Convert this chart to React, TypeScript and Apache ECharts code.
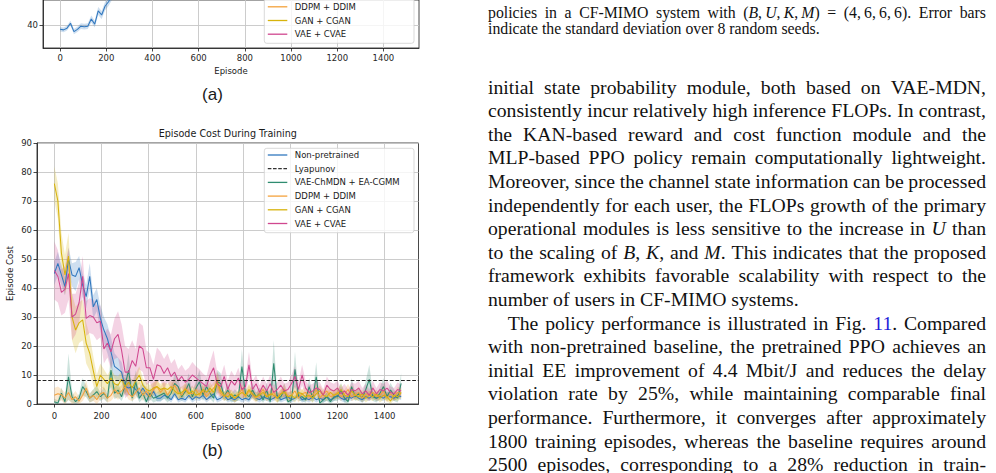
import React, { useEffect, useRef } from "react";
import * as echarts from "echarts";

// ---------------- data ----------------
const EPISODE_STEP = 15;
const EPISODE_TICKS = [0, 200, 400, 600, 800, 1000, 1200, 1400];
const COST_TICKS_MIN = 0;
const COST_TICKS_MAX = 90;
const COST_TICK_STEP = 10;
const REWARD_TICKS = [40];
const LYAPUNOV_COST = 8.2;

// (a) partial panel (only its lowest part is on the page)
const REWARD_NON_PRETRAINED = [38.5, 38.3, 38.9, 40.6, 37.7, 38.5, 39.6, 39.4, 39.6, 42.1, 40.3, 44.9, 43.5, 46.6, 48.1, 50.4, 52.5];
const REWARD_NON_PRETRAINED_STD = [0.8, 0.8, 0.8, 0.9, 0.9, 0.9, 1, 1, 1, 1.2, 1.2, 1.4, 1.4, 1.5, 1.5, 1.6, 1.6];

// (b) episode cost
const NON_PRETRAINED = [
  45, 48.5, 44.5, 40.5, 50, 44.5, 44, 47, 41, 37,
  44, 33.5, 36, 29.5, 25.5, 22.5, 18, 13, 12, 11,
  6, 5.5, 6, 5, 3.5, 5.5, 3.5, 2.5, 4.5, 2,
  2, 3, 2.5, 1.5, 3.5, 1.5, 2, 1.5, 3, 1.5,
  2.5, 2, 3, 1.5, 2.5, 3.5, 1.5, 2, 3, 1.5,
  2, 1.5, 2.5, 1.5, 2, 1.5, 3.5, 2, 1.5, 2.5,
  2, 1.5, 2, 3, 1.5, 2, 2.5, 1.5, 2, 3,
  1.5, 2, 1.5, 2.5, 1.5, 2, 1.5, 2.5, 1.5, 2,
  3, 2, 1.5, 2.5, 2, 3, 2, 1.5, 2.5, 2,
  3, 2, 2.5, 2, 3, 2.5, 2, 3, 2.5,
];
const NON_PRETRAINED_STD = [
  4, 4, 3.5, 3, 4, 4, 5, 4, 4, 4,
  4.5, 4, 4, 4.5, 4.5, 5, 5, 4.5, 4, 3.5,
  3, 2.5, 2.5, 2, 2, 2, 2, 1.5, 1.5, 1.2,
  1.2, 1.2, 1, 1, 1.2, 1, 1, 1, 1.2, 1,
  1.2, 1, 1.2, 1, 1, 1.2, 1, 1, 1.2, 1,
  1, 1, 1.2, 1, 1, 1, 1.5, 1, 1, 1.2,
  1, 1, 1, 1.2, 1, 1, 1.2, 1, 1, 1.2,
  1, 1, 1, 1.2, 1, 1, 1, 1.2, 1, 1,
  1.2, 1, 1, 1.2, 1, 1.2, 1, 1, 1.2, 1,
  1.2, 1, 1.2, 1, 1.2, 1.2, 1, 1.2, 1.2,
];
const VAE_CHMDN = [
  0.8, 0.3, 3.7, 0.8, 9.4, 2.5, 0.8, 2, 6, 4.3,
  2, 3.1, 4.3, 2.5, 3.7, 2, 11.7, 3.7, 4.8, 2.5,
  6.6, 11.7, 2, 7.7, 2, 3.7, 0.8, 3.7, 2, 2.5,
  3.1, 3.7, 2, 3.7, 7.1, 6, 2.5, 4.3, 7.1, 2.5,
  5.4, 7.7, 3.1, 6, 3.7, 2, 7.7, 7.1, 2.5, 4.8,
  2, 3.1, 2.5, 12.9, 3.7, 2.5, 4.8, 2.5, 3.7, 1.4,
  4.8, 0.8, 14, 2, 2.5, 4.8, 0.8, 1.4, 12, 2.5,
  2.5, 1.4, 6, 2, 9.4, 0.3, 1.4, 2.5, 0.8, 2.5,
  2.5, 4.8, 2, 0.8, 6, 2.5, 3.7, 2, 5, 8.5,
  2.5, 2, 3.7, 6, 2.5, 4.8, 3, 2, 7.1,
];
const VAE_CHMDN_STD = [
  1, 1, 2, 1, 8, 2, 1, 1.5, 3, 2,
  1.5, 2, 2, 1.5, 2, 1.5, 6, 2, 2.5, 1.5,
  3, 6, 1.5, 4, 1.5, 2, 1, 2, 1.5, 1.5,
  2, 2, 1.5, 2, 3.5, 3, 1.5, 2, 3.5, 1.5,
  2.5, 4, 2, 3, 2, 1.5, 4, 3.5, 1.5, 2.5,
  1.5, 2, 1.5, 6, 2, 1.5, 2.5, 1.5, 2, 1,
  2.5, 1, 8, 1.5, 1.5, 2.5, 1, 1, 6, 1.5,
  1.5, 1, 3, 1.5, 5, 0.5, 1, 1.5, 1, 1.5,
  1.5, 2.5, 1.5, 1, 3, 1.5, 2, 1.5, 3, 5,
  1.5, 1.5, 2, 3, 1.5, 2.5, 2, 1.5, 3.5,
];
const DDPM = [
  3, 3.5, 3.2, 2, 4, 1.5, 2.5, 1, 3, 5.5,
  2, 3, 1.5, 3.5, 4, 2, 3, 5, 3.5, 4.5,
  6, 3.5, 2.5, 4, 5.5, 3, 4.5, 2.5, 5, 6,
  4, 5.5, 3, 5, 6.5, 4, 3, 5.5, 4, 3.5,
  5, 3, 4.5, 2.5, 4, 5.5, 7, 3.5, 2.5, 4,
  3, 2, 3.5, 5, 2.5, 4.5, 3, 2, 3.5, 5,
  2.5, 3, 4, 2, 3.5, 5, 2.5, 3, 4.5, 2,
  3.5, 4, 2.5, 3, 5, 2, 3.5, 4.5, 2.5, 3,
  4, 2.5, 3.5, 5, 2.5, 3, 4, 2, 3.5, 3,
  4, 2.5, 3, 4.5, 2, 3.5, 2.5, 4, 3.5,
];
const DDPM_STD = [
  2.5, 2.5, 2, 2, 2.5, 1.5, 2, 1.5, 2, 2.5,
  1.5, 2, 1.5, 2, 2, 1.5, 2, 2.5, 2, 2,
  2.5, 2, 1.5, 2, 2.5, 2, 2, 1.5, 2, 2.5,
  2, 2, 1.5, 2, 2.5, 2, 1.5, 2, 2, 1.5,
  2, 1.5, 2, 1.5, 2, 2, 2.5, 1.5, 1.5, 2,
  1.5, 1.5, 1.5, 2, 1.5, 2, 1.5, 1.5, 1.5, 2,
  1.5, 1.5, 2, 1.5, 1.5, 2, 1.5, 1.5, 2, 1.5,
  1.5, 2, 1.5, 1.5, 2, 1.5, 1.5, 2, 1.5, 1.5,
  2, 1.5, 1.5, 2, 1.5, 1.5, 2, 1.5, 1.5, 1.5,
  2, 1.5, 1.5, 2, 1.5, 1.5, 1.5, 2, 1.5,
];
const GAN = [
  76, 70, 52, 44.5, 51, 30, 25.5, 28, 29, 21,
  17.5, 11.5, 6, 10, 8.5, 7, 9, 7, 6.5, 8.5,
  6, 7.5, 5.5, 8, 10, 6.5, 5, 4.5, 5.5, 6,
  5, 5.5, 5, 6, 4.5, 3.5, 4, 5, 3.5, 4.5,
  3, 3.5, 5, 4, 5.5, 4, 8, 4.5, 3, 2.5,
  3.5, 2, 3, 4, 3, 5, 3.5, 2.5, 3, 4,
  2.5, 3.5, 3, 2, 3.5, 4, 2.5, 3, 2, 4,
  3.5, 2.5, 3, 2, 3.5, 4.5, 3, 2.5, 4, 3,
  3.5, 5, 3, 2.5, 4.5, 3, 2.5, 3.5, 2, 3,
  2.5, 3.5, 2, 3, 2.5, 1, 3, 2.5, 4,
];
const GAN_STD = [
  6, 6, 7, 7, 8, 8, 8, 7, 7, 7,
  6, 5, 4, 4, 3.5, 3, 3, 3, 3, 3,
  2.5, 2.5, 2.5, 2.5, 3, 2.5, 2.5, 2, 2, 2,
  2, 2, 2, 2, 2, 2, 2, 2, 1.5, 2,
  1.5, 1.5, 2, 1.5, 2, 1.5, 3, 2, 1.5, 1.5,
  1.5, 1.5, 1.5, 2, 1.5, 2, 1.5, 1.5, 1.5, 1.5,
  1.5, 1.5, 1.5, 1.5, 1.5, 1.5, 1.5, 1.5, 1.5, 1.5,
  1.5, 1.5, 1.5, 1.5, 1.5, 2, 1.5, 1.5, 1.5, 1.5,
  1.5, 2, 1.5, 1.5, 2, 1.5, 1.5, 1.5, 1.5, 1.5,
  1.5, 1.5, 1.5, 1.5, 1.5, 1, 1.5, 1.5, 2,
];
const VAE_CVAE = [
  46, 44, 38.5, 39.5, 45, 30, 31, 35, 44, 29.5,
  30.5, 30, 28, 28.5, 19, 21, 18, 22.5, 24, 18.5,
  11, 11, 15, 13, 20, 19, 12.5, 12.5, 8.5, 13.5,
  13, 10.5, 12.5, 9.5, 11, 8, 9.5, 7.5, 8.5, 10,
  9, 8, 7, 6, 10, 12.5, 7, 6, 9.5, 5,
  8, 6.5, 9, 5, 6, 13.5, 5, 7, 4, 6.5,
  4.5, 7, 4, 5, 6.5, 4.5, 5, 7, 9.5, 5,
  10, 5.5, 4, 4.5, 5.5, 5, 3, 6.5, 5, 4.5,
  5.5, 3.5, 4.5, 3, 5, 4.5, 5.5, 3.5, 4.5, 3,
  5.5, 3.5, 5, 4.5, 5.5, 4, 3.5, 5, 4.5,
];
const VAE_CVAE_STD = [
  10, 9, 8, 8, 9, 8, 7, 7, 7, 6,
  6, 6, 6, 5.5, 5, 5, 6, 7, 8, 9,
  9, 8, 7, 6, 8, 8, 6, 5, 5, 6,
  5, 5, 5, 4.5, 4.5, 4, 4, 4, 4, 4.5,
  4, 4, 3.5, 3.5, 4.5, 6, 4, 3.5, 4, 3,
  3.5, 3, 3.5, 3, 3, 4.5, 3, 3, 2.5, 3,
  2.5, 3, 2.5, 2.5, 3, 2.5, 2.5, 3, 3.5, 2.5,
  3.5, 2.5, 2.5, 2.5, 2.5, 2.5, 2, 3, 2.5, 2.5,
  2.5, 2, 2.5, 2, 2.5, 2.5, 2.5, 2, 2.5, 2,
  2.5, 2, 2.5, 2.5, 2.5, 2, 2, 2.5, 2,
];

const LEGEND_LABELS = ["Non-pretrained", "Lyapunov", "VAE-ChMDN + EA-CGMM", "DDPM + DDIM", "GAN + CGAN", "VAE + CVAE"];

// ---------------- page text ----------------
const CAPTION_LINES = [
  { t: "policies in a CF-MIMO system with (*B*,\u2009*U*,\u2009*K*,\u2009*M*) = (4,\u20096,\u20096,\u20096). Error bars", j: true },
  { t: "indicate the standard deviation over 8 random seeds.", j: false },
];
const BODY_LINES = [
  { t: "initial state probability module, both based on VAE-MDN,", j: true },
  { t: "consistently incur relatively high inference FLOPs. In contrast,", j: true },
  { t: "the KAN-based reward and cost function module and the", j: true },
  { t: "MLP-based PPO policy remain computationally lightweight.", j: true },
  { t: "Moreover, since the channel state information can be processed", j: true },
  { t: "independently for each user, the FLOPs growth of the primary", j: true },
  { t: "operational modules is less sensitive to the increase in *U* than", j: true },
  { t: "to the scaling of *B*, *K*, and *M*. This indicates that the proposed", j: true },
  { t: "framework exhibits favorable scalability with respect to the", j: true },
  { t: "number of users in CF-MIMO systems.", j: false },
  { t: "The policy performance is illustrated in Fig. #11#. Compared", j: true, indent: true },
  { t: "with non-pretrained baseline, the pretrained PPO achieves an", j: true },
  { t: "initial EE improvement of 4.4 Mbit/J and reduces the delay", j: true },
  { t: "violation rate by 25%, while maintaining comparable final", j: true },
  { t: "performance. Furthermore, it converges after approximately", j: true },
  { t: "1800 training episodes, whereas the baseline requires around", j: true },
  { t: "2500 episodes, corresponding to a 28% reduction in train-", j: true },
];

// ---------------- styling ----------------
const SANS = '"DejaVu Sans", sans-serif';
const SERIF = '"Liberation Serif", "Times New Roman", serif';
const INK = "#1a1a1a";
const GRID_LINE = "#c6c6c6";
const COLORS = {
  blue: "#3178bf",
  teal: "#2f8c70",
  orange: "#f4a23c",
  gold: "#d7b30c",
  pink: "#d0478f",
};

function hexA(hex: string, a: number) {
  const n = parseInt(hex.slice(1), 16);
  return `rgba(${(n >> 16) & 255},${(n >> 8) & 255},${n & 255},${a})`;
}

const EPISODES = NON_PRETRAINED.map((_, i) => i * EPISODE_STEP);

function bandAndLine(name: string, mean: number[], std: number[], color: string, axis: number, floor: number) {
  const pts = mean.map((m, i) => [i * EPISODE_STEP, Math.max(floor, m - std[i]), m + std[i]]);
  const band = {
    type: "custom", name: name + " band", xAxisIndex: axis, yAxisIndex: axis, silent: true, clip: true,
    data: pts,
    encode: { x: 0, y: [1, 2] },
    renderItem: (params: any, api: any) => {
      if (params.dataIndex !== 0) return null;
      const upper = pts.map((p) => api.coord([p[0], p[2]]));
      const lower = pts.map((p) => api.coord([p[0], p[1]])).reverse();
      return { type: "polygon", shape: { points: upper.concat(lower) }, style: { fill: hexA(color, 0.24), stroke: "none" } };
    },
  };
  const line = {
    type: "line", name, xAxisIndex: axis, yAxisIndex: axis, symbol: "none", silent: true, clip: true,
    data: mean.map((m, i) => [i * EPISODE_STEP, m]),
    lineStyle: { color, width: 1.05 },
  };
  return [band, line];
}

function xAxisCfg(gridIndex: number, min: number, max: number, margin: number) {
  return {
    type: "value", gridIndex, min, max,
    axisLine: { show: true, onZero: false, lineStyle: { color: INK, width: 0.8 } },
    axisTick: { show: true, length: 3.5, lineStyle: { color: INK, width: 0.8 }, customValues: EPISODE_TICKS },
    axisLabel: { show: true, customValues: EPISODE_TICKS, margin, fontSize: 8.5, fontFamily: SANS, color: "#262626", formatter: (v: number) => String(v) },
    splitLine: { show: true, lineStyle: { color: GRID_LINE, width: 0.9 } },
  };
}

// ---------------- page text layout ----------------
let measureCtx: CanvasRenderingContext2D | null = null;
function textWidth(s: string, size: number, italic: boolean) {
  if (!measureCtx) measureCtx = document.createElement("canvas").getContext("2d");
  measureCtx!.font = `${italic ? "italic " : ""}${size}px "Liberation Serif"`;
  return measureCtx!.measureText(s).width;
}
function parseToken(tok: string) {
  const segs: { s: string; it: boolean; blue: boolean }[] = [];
  let cur = "", it = false, blue = false;
  for (const ch of tok) {
    if (ch === "*" || ch === "#") {
      if (cur) segs.push({ s: cur, it, blue });
      cur = "";
      if (ch === "*") it = !it; else blue = !blue;
    } else cur += ch;
  }
  if (cur) segs.push({ s: cur, it, blue });
  return segs;
}
function layoutLine(line: string, y: number, left: number, right: number, size: number, justify: boolean, indent: number) {
  const tokens = line.split(" ").map(parseToken);
  const widths = tokens.map((segs) => segs.reduce((a, g) => a + textWidth(g.s, size, g.it), 0));
  const total = widths.reduce((a, b) => a + b, 0);
  const space = textWidth(" ", size, false);
  const gap = justify && tokens.length > 1 ? (right - left - indent - total) / (tokens.length - 1) : space;
  const els: any[] = [];
  let x = left + indent;
  tokens.forEach((segs, k) => {
    let sx = x;
    segs.forEach((g) => {
      els.push({
        type: "text", x: sx, y, silent: true, z: 60,
        style: { text: g.s, fontSize: size, fontFamily: SERIF, fontStyle: g.it ? "italic" : "normal", fill: g.blue ? "#1d1dd8" : "#111", align: "left", verticalAlign: "middle" },
      });
      sx += textWidth(g.s, size, g.it);
    });
    x += widths[k] + gap;
  });
  return els;
}

function label(x: number, y: number, text: string, size: number, opts: any = {}) {
  return {
    type: "text", x, y, silent: true, z: 60, rotation: opts.rotation || 0,
    style: { text, fontSize: size, fontFamily: opts.family || SANS, fill: opts.fill || INK, align: opts.align || "center", verticalAlign: "middle" },
  };
}

function legend(x: number, y: number, w: number, h: number, rowY: number[], colors: string[], dashed: boolean[], first: number) {
  const els: any[] = [{ type: "rect", z: 50, silent: true, shape: { x, y, width: w, height: h, r: 2.5 }, style: { fill: "rgba(255,255,255,0.8)", stroke: "#cfcfcf", lineWidth: 0.8 } }];
  LEGEND_LABELS.forEach((name, i) => {
    if (i < first) return;
    els.push({ type: "line", z: 51, silent: true, shape: { x1: x + 3.5, y1: rowY[i], x2: x + 23, y2: rowY[i] }, style: { stroke: colors[i], lineWidth: 1.3, lineDash: dashed[i] ? [3.6, 1.6] : null } });
    els.push(label(x + 30.5, rowY[i], name, 8.5, { align: "left" }));
  });
  return els;
}

function buildOption() {
  const legendColors = [COLORS.blue, "#333333", COLORS.teal, COLORS.orange, COLORS.gold, COLORS.pink];
  const legendDash = [false, true, false, false, false, false];
  const step = 13.7;
  const rowsB = LEGEND_LABELS.map((_, i) => 155 + i * step);
  const rowsA = LEGEND_LABELS.map((_, i) => 6.8 + (i - 3) * step);

  const graphics: any[] = [
    ...legend(264.3, -45, 149.7, 88.3, rowsA, legendColors, legendDash, 3),
    ...legend(264.3, 148.3, 149.7, 84.4, rowsB, legendColors, legendDash, 0),
    label(231, 71, "Episode", 8.5),
    label(212.5, 94.5, "(a)", 17, { family: '"Liberation Sans", Arial, sans-serif' }),
    label(227.8, 133, "Episode Cost During Training", 9.6),
    label(227.8, 427, "Episode", 8.5),
    label(10, 273.5, "Episode Cost", 8.5, { rotation: Math.PI / 2 }),
    label(212.5, 450, "(b)", 17, { family: '"Liberation Sans", Arial, sans-serif' }),
  ];
  CAPTION_LINES.forEach((l, k) => graphics.push(...layoutLine(l.t, 12 + k * 16.5, 488, 986, 15.8, l.j, 0)));
  BODY_LINES.forEach((l: any, k) => graphics.push(...layoutLine(l.t, 86.5 + k * 23.6, 488, 986, 19.7, l.j, l.indent ? 19.7 : 0)));

  const series: any[] = [
    ...bandAndLine("Reward Non-pretrained", REWARD_NON_PRETRAINED, REWARD_NON_PRETRAINED_STD, COLORS.blue, 0, -1e9),
    ...bandAndLine("Non-pretrained", NON_PRETRAINED, NON_PRETRAINED_STD, COLORS.blue, 1, 0),
    {
      type: "line", name: "Lyapunov", xAxisIndex: 1, yAxisIndex: 1, symbol: "none", silent: true,
      data: [[EPISODES[0], LYAPUNOV_COST], [EPISODES[EPISODES.length - 1], LYAPUNOV_COST]],
      lineStyle: { opacity: 0, width: 0 },
      markLine: { silent: true, symbol: ["none", "none"], label: { show: false }, lineStyle: { color: "#222", width: 1, type: [3.8, 1.8] }, data: [{ yAxis: LYAPUNOV_COST }] },
    },
    ...bandAndLine("VAE-ChMDN + EA-CGMM", VAE_CHMDN, VAE_CHMDN_STD, COLORS.teal, 1, 0),
    ...bandAndLine("DDPM + DDIM", DDPM, DDPM_STD, COLORS.orange, 1, 0),
    ...bandAndLine("GAN + CGAN", GAN, GAN_STD, COLORS.gold, 1, 0),
    ...bandAndLine("VAE + CVAE", VAE_CVAE, VAE_CVAE_STD, COLORS.pink, 1, 0),
  ];

  return {
    animation: false,
    backgroundColor: "#ffffff",
    grid: [
      { left: 43, right: 577, top: 0, bottom: 425, show: true, borderColor: INK, borderWidth: 0.8, backgroundColor: "transparent" },
      { left: 37, right: 577.5, top: 143, bottom: 69, show: true, borderColor: INK, borderWidth: 0.8, backgroundColor: "transparent" },
    ],
    xAxis: [xAxisCfg(0, -74, 1554, 5.5), xAxisCfg(1, -73.5, 1543.5, 7)],
    yAxis: [
      {
        type: "value", gridIndex: 0, min: 32, max: 48.7,
        axisLine: { show: true, onZero: false, lineStyle: { color: INK, width: 0.8 } },
        axisTick: { show: true, length: 3.5, lineStyle: { color: INK, width: 0.8 }, customValues: REWARD_TICKS },
        axisLabel: { customValues: REWARD_TICKS, margin: 5, fontSize: 8.5, fontFamily: SANS, color: "#262626" },
        splitLine: { show: true, lineStyle: { color: GRID_LINE, width: 0.9 } },
      },
      {
        type: "value", gridIndex: 1, min: COST_TICKS_MIN, max: COST_TICKS_MAX, interval: COST_TICK_STEP,
        axisLine: { show: true, onZero: false, lineStyle: { color: INK, width: 0.8 } },
        axisTick: { show: true, length: 3.5, lineStyle: { color: INK, width: 0.8 } },
        axisLabel: { margin: 5, fontSize: 8.5, fontFamily: SANS, color: "#262626" },
        splitLine: { show: true, lineStyle: { color: GRID_LINE, width: 0.9 } },
      },
    ],
    series,
    graphic: graphics,
  };
}

export default function App() {
  const ref = useRef<HTMLDivElement>(null);
  useEffect(() => {
    if (!ref.current) return;
    const chart = echarts.init(ref.current, null, { renderer: "svg", width: 996, height: 473 });
    chart.setOption(buildOption() as any);
    return () => chart.dispose();
  }, []);
  return <div ref={ref} style={{ position: "absolute", left: 0, top: 0, width: 996, height: 473, background: "#fff" }} />;
}
